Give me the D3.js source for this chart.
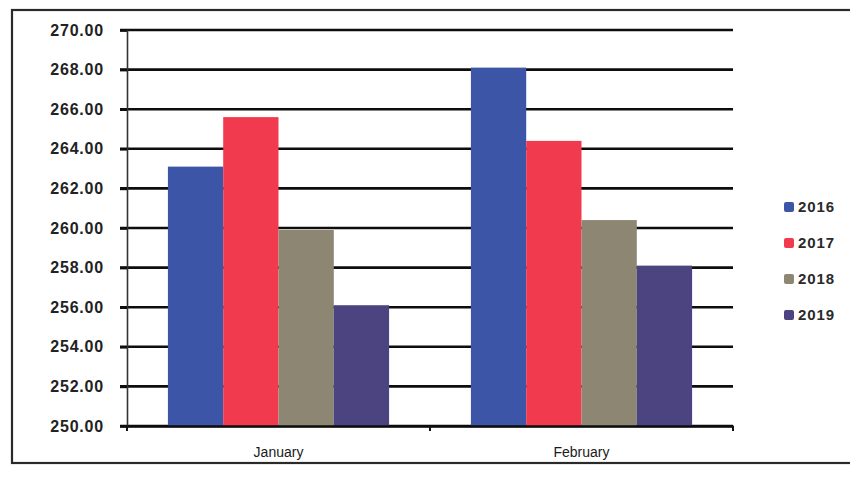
<!DOCTYPE html>
<html>
<head>
<meta charset="utf-8">
<script src="https://cdn.jsdelivr.net/npm/d3@7"></script>
<style>
  html, body { margin: 0; padding: 0; background: #fff; }
  svg { display: block; }
</style>
</head>
<body>
<svg id="chart" width="850" height="494"></svg>
<script>
const categories = ["January", "February"];
const series = ["2016", "2017", "2018", "2019"];
const values2016 = [263.1, 268.1];
const values2017 = [265.6, 264.4];
const values2018 = [259.9, 260.4];
const values2019 = [256.1, 258.1];
const yTicks = [250, 252, 254, 256, 258, 260, 262, 264, 266, 268, 270];
const colors = ["#3c55a6", "#f23a4e", "#8c8672", "#4b4480"];

const seriesValues = [values2016, values2017, values2018, values2019];
const table = categories.map((c, i) => ({
  category: c,
  values: series.map((s, j) => ({ key: s, value: seriesValues[j][i], color: colors[j] }))
}));

const svg = d3.select("#chart");
const plot = { left: 127, right: 733, top: 30, bottom: 426 };

// outer frame
svg.append("rect")
  .attr("x", 12).attr("y", 10)
  .attr("width", 860).attr("height", 453)
  .attr("fill", "none").attr("stroke", "#2a2a2a").attr("stroke-width", 2.2);

const x0 = d3.scaleBand().domain(categories)
  .range([plot.left, plot.right]).paddingInner(0.27).paddingOuter(0.135);
const x1 = d3.scaleBand().domain(series).range([0, x0.bandwidth()]).padding(0);
const y = d3.scaleLinear().domain([250, 270]).range([plot.bottom, plot.top]);

// gridlines
svg.append("g").selectAll("line").data(yTicks).join("line")
  .attr("x1", plot.left - 7).attr("x2", plot.right)
  .attr("y1", d => y(d)).attr("y2", d => y(d))
  .attr("stroke", "#0d0d0d").attr("stroke-width", 2.6);

// bars
const groups = svg.append("g").selectAll("g").data(table).join("g")
  .attr("transform", d => `translate(${x0(d.category)},0)`);
groups.selectAll("rect").data(d => d.values).join("rect")
  .attr("x", d => x1(d.key))
  .attr("width", x1.bandwidth())
  .attr("y", d => y(d.value))
  .attr("height", d => y(250) - y(d.value))
  .attr("fill", d => d.color);

// y axis
const yAxis = d3.axisLeft(y).tickValues(yTicks).tickFormat(d3.format(".2f")).tickSize(7).tickPadding(16);
const yg = svg.append("g").attr("transform", `translate(${plot.left},0)`).call(yAxis);
yg.select(".domain").attr("stroke", "#333").attr("stroke-width", 1.6);
yg.selectAll(".tick line").attr("stroke", "#0d0d0d").attr("stroke-width", 2.6);
yg.selectAll(".tick text")
  .attr("font-family", "'Liberation Sans', Arial, sans-serif")
  .attr("font-size", 16).attr("font-weight", 700).attr("fill", "#222")
  .attr("letter-spacing", 0.8);

// x axis
const xAxis = d3.axisBottom(x0).tickSize(0).tickPadding(21);
const xg = svg.append("g").attr("transform", `translate(0,${plot.bottom})`).call(xAxis);
xg.select(".domain").attr("stroke", "#0d0d0d").attr("stroke-width", 2.6);
xg.selectAll(".tick text")
  .attr("font-family", "'Liberation Sans', Arial, sans-serif")
  .attr("font-size", 14).attr("fill", "#1a1a1a");
xg.append("g").selectAll("line").data([plot.left, (plot.left + plot.right) / 2, plot.right]).join("line")
  .attr("x1", d => d).attr("x2", d => d).attr("y1", 0).attr("y2", 5)
  .attr("stroke", "#111").attr("stroke-width", 2);

// legend
const legend = svg.append("g").attr("transform", "translate(784,207)");
const li = legend.selectAll("g").data(series).join("g")
  .attr("transform", (d, i) => `translate(0,${i * 36})`);
li.append("rect").attr("x", 0).attr("y", -5).attr("width", 10).attr("height", 10)
  .attr("rx", 2).attr("fill", (d, i) => colors[i]);
li.append("text").attr("x", 14).attr("y", 0).attr("dy", "0.36em")
  .attr("font-family", "'Liberation Sans', Arial, sans-serif")
  .attr("font-size", 15).attr("font-weight", 700).attr("fill", "#2a2a2a")
  .attr("letter-spacing", 0.9)
  .text(d => d);
</script>
</body>
</html>
